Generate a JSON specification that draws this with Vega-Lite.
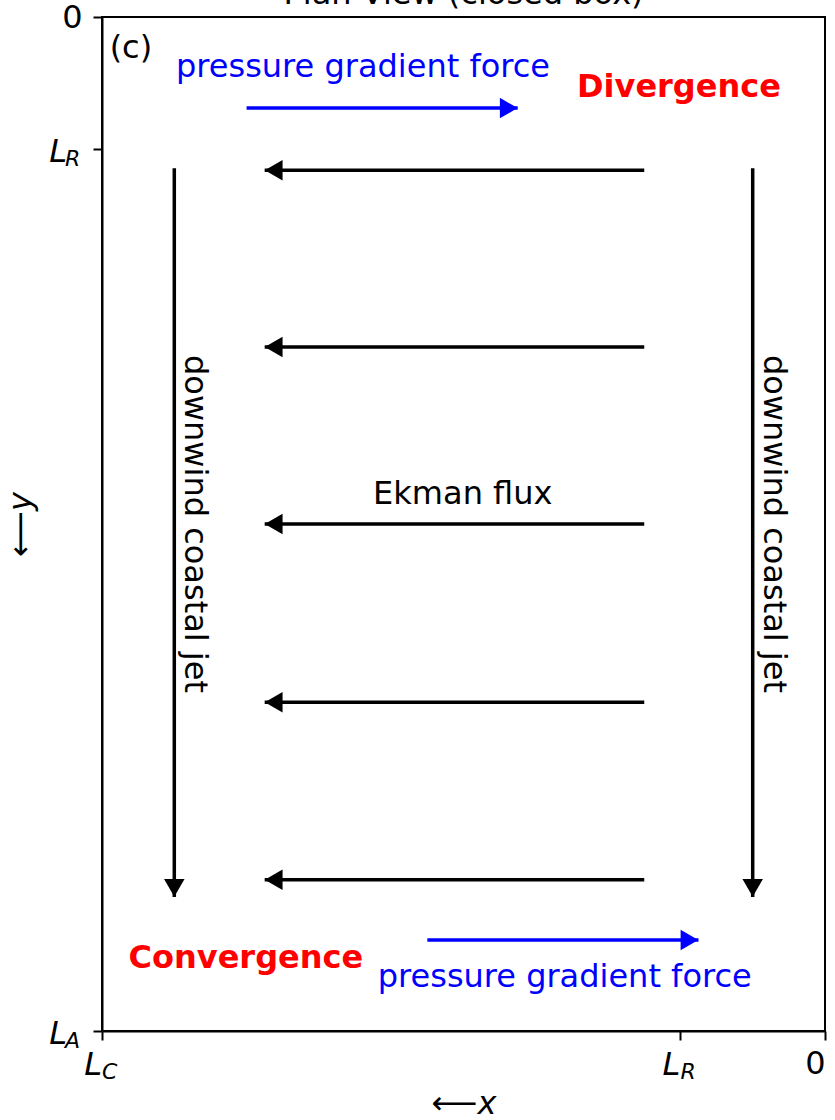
{
  "$schema": "https://vega.github.io/schema/vega-lite/v6.json",
  "width": 723,
  "height": 1014,
  "autosize": {"type": "none"},
  "padding": {"left": 102, "top": 17, "right": 10, "bottom": 89},
  "background": "white",
  "config": {"font": "DejaVu Sans", "view": {"stroke": "black", "strokeWidth": 2}},
  "datasets": {
    "arrows": [
      {"kind": "ekman", "dir": "left", "x": 250, "y": 232, "x2": 775, "y2": 232},
      {"kind": "ekman", "dir": "left", "x": 250, "y": 500, "x2": 775, "y2": 500},
      {"kind": "ekman", "dir": "left", "x": 250, "y": 768, "x2": 775, "y2": 768},
      {"kind": "ekman", "dir": "left", "x": 250, "y": 1038, "x2": 775, "y2": 1038},
      {"kind": "ekman", "dir": "left", "x": 250, "y": 1307, "x2": 775, "y2": 1307},
      {"kind": "jet", "dir": "down", "x": 900, "y": 229, "x2": 900, "y2": 1333},
      {"kind": "jet", "dir": "down", "x": 100, "y": 229, "x2": 100, "y2": 1333},
      {"kind": "pgf", "dir": "right", "x": 800, "y": 138, "x2": 425, "y2": 138},
      {"kind": "pgf", "dir": "right", "x": 550, "y": 1398, "x2": 175, "y2": 1398}
    ],
    "notes": [
      {"text": "pressure gradient force", "kind": "pgf", "x": 639, "y": 91},
      {"text": "pressure gradient force", "kind": "pgf", "x": 360, "y": 1470},
      {"text": "Ekman flux", "kind": "ekman", "x": 501, "y": 738},
      {"text": "(c)", "kind": "label", "x": 960, "y": 62}
    ],
    "bold": [
      {"text": "Divergence", "kind": "div", "x": 202, "y": 121},
      {"text": "Convergence", "kind": "div", "x": 801, "y": 1441}
    ],
    "jets": [
      {"text": "downwind coastal jet", "kind": "jet", "x": 885, "y": 768},
      {"text": "downwind coastal jet", "kind": "jet", "x": 84, "y": 768}
    ],
    "titles": [
      {"text": "Plan View (closed box)", "x": 500, "y": 0}
    ],
    "ticklabels": [
      {"axis": "y", "x": 1000, "y": 200, "sub": "R"},
      {"axis": "y", "x": 1000, "y": 1536, "sub": "A"},
      {"axis": "x", "x": 1000, "y": 1536, "sub": "C"},
      {"axis": "x", "x": 200, "y": 1536, "sub": "R"}
    ]
  },
  "encoding": {
    "x": {
      "field": "x", "type": "quantitative",
      "scale": {"domain": [1000, 0], "nice": false, "zero": false},
      "axis": {
        "values": [1000, 200, 0], "labelExpr": "datum.value == 0 ? '0' : ''",
        "grid": false, "domainColor": "black", "domainWidth": 2, "tickColor": "black", "tickWidth": 2, "tickSize": 9,
        "labelFontSize": 32, "labelColor": "black", "labelPadding": 8, "labelFont": "DejaVu Sans",
        "title": "⟵x", "titleFontSize": 32, "titleFontWeight": "normal", "titleFontStyle": "italic", "titleColor": "black", "titlePadding": 9
      }
    },
    "y": {
      "field": "y", "type": "quantitative",
      "scale": {"domain": [1536, 0], "nice": false, "zero": false},
      "axis": {
        "values": [0, 200, 1536], "labelExpr": "datum.value == 0 ? '0' : ''",
        "grid": false, "domainColor": "black", "domainWidth": 2, "tickColor": "black", "tickWidth": 2, "tickSize": 9,
        "labelFontSize": 32, "labelColor": "black", "labelPadding": 11, "labelFont": "DejaVu Sans",
        "title": "⟵y", "titleFontSize": 32, "titleFontWeight": "normal", "titleFontStyle": "italic", "titleColor": "black", "titlePadding": 24
      }
    }
  },
  "layer": [
    {
      "data": {"name": "arrows"},
      "mark": {"type": "rule", "strokeWidth": 3.5},
      "encoding": {
        "x2": {"field": "x2"},
        "y2": {"field": "y2"},
        "color": {"field": "kind", "type": "nominal", "scale": {"domain": ["ekman", "jet", "pgf", "label", "div"], "range": ["black", "black", "#0000ff", "black", "#ff0000"]}, "legend": null}
      }
    },
    {
      "data": {"name": "arrows"},
      "transform": [{"filter": "datum.dir == 'left'"}],
      "mark": {"type": "point", "shape": "triangle-left", "filled": true, "size": 420, "opacity": 1, "strokeWidth": 0, "xOffset": 9},
      "encoding": {
        "x": {"field": "x2", "type": "quantitative"},
        "y": {"field": "y2", "type": "quantitative"},
        "color": {"field": "kind", "type": "nominal", "legend": null}
      }
    },
    {
      "data": {"name": "arrows"},
      "transform": [{"filter": "datum.dir == 'right'"}],
      "mark": {"type": "point", "shape": "triangle-right", "filled": true, "size": 420, "opacity": 1, "strokeWidth": 0, "xOffset": -9},
      "encoding": {
        "x": {"field": "x2", "type": "quantitative"},
        "y": {"field": "y2", "type": "quantitative"},
        "color": {"field": "kind", "type": "nominal", "legend": null}
      }
    },
    {
      "data": {"name": "arrows"},
      "transform": [{"filter": "datum.dir == 'down'"}],
      "mark": {"type": "point", "shape": "triangle-down", "filled": true, "size": 420, "opacity": 1, "strokeWidth": 0, "yOffset": -9},
      "encoding": {
        "x": {"field": "x2", "type": "quantitative"},
        "y": {"field": "y2", "type": "quantitative"},
        "color": {"field": "kind", "type": "nominal", "legend": null}
      }
    },
    {
      "data": {"name": "notes"},
      "mark": {"type": "text", "fontSize": 32, "baseline": "alphabetic", "align": "center"},
      "encoding": {
        "text": {"field": "text"},
        "color": {"field": "kind", "type": "nominal", "legend": null}
      }
    },
    {
      "data": {"name": "bold"},
      "mark": {"type": "text", "fontSize": 32, "fontWeight": "bold", "baseline": "alphabetic", "align": "center"},
      "encoding": {
        "text": {"field": "text"},
        "color": {"field": "kind", "type": "nominal", "legend": null}
      }
    },
    {
      "data": {"name": "jets"},
      "mark": {"type": "text", "fontSize": 32, "baseline": "alphabetic", "align": "center", "angle": 90},
      "encoding": {
        "text": {"field": "text"},
        "color": {"field": "kind", "type": "nominal", "legend": null}
      }
    },
    {
      "data": {"name": "titles"},
      "mark": {"type": "text", "fontSize": 32, "baseline": "alphabetic", "align": "center", "dy": -13, "color": "black"},
      "encoding": {"text": {"field": "text"}}
    },
    {
      "data": {"name": "ticklabels"},
      "transform": [{"filter": "datum.axis == 'y'"}],
      "mark": {"type": "text", "fontSize": 32, "fontStyle": "italic", "baseline": "alphabetic", "align": "right", "dx": -35, "dy": 13, "color": "black", "text": "L"},
      "encoding": {}
    },
    {
      "data": {"name": "ticklabels"},
      "transform": [{"filter": "datum.axis == 'y'"}],
      "mark": {"type": "text", "fontSize": 22, "fontStyle": "italic", "baseline": "alphabetic", "align": "left", "dx": -37, "dy": 17, "color": "black"},
      "encoding": {"text": {"field": "sub"}}
    },
    {
      "data": {"name": "ticklabels"},
      "transform": [{"filter": "datum.axis == 'x'"}],
      "mark": {"type": "text", "fontSize": 32, "fontStyle": "italic", "baseline": "alphabetic", "align": "right", "dx": 0, "dy": 44, "color": "black", "text": "L"},
      "encoding": {}
    },
    {
      "data": {"name": "ticklabels"},
      "transform": [{"filter": "datum.axis == 'x'"}],
      "mark": {"type": "text", "fontSize": 22, "fontStyle": "italic", "baseline": "alphabetic", "align": "left", "dx": 0, "dy": 48, "color": "black"},
      "encoding": {"text": {"field": "sub"}}
    }
  ]
}
